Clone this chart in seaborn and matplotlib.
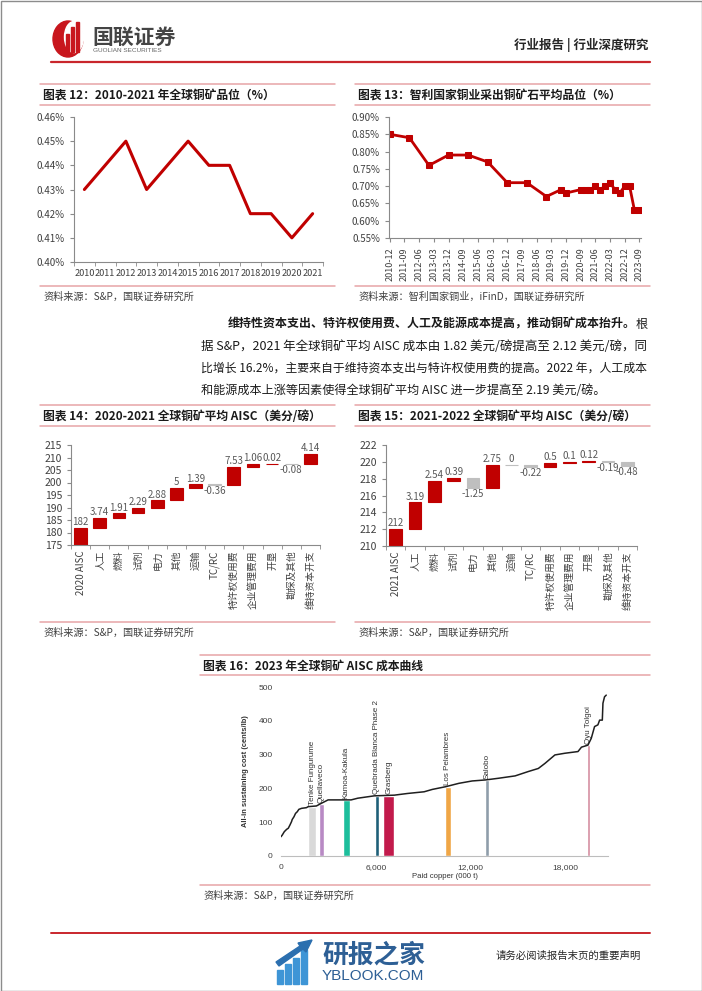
import numpy as np
import pandas as pd
import matplotlib
matplotlib.use("Agg")
import matplotlib.pyplot as plt
from matplotlib.patches import Rectangle, Ellipse, Polygon
import seaborn as sns

sns.set_style("white")
plt.rcParams["font.family"] = ["Noto Sans CJK SC", "DejaVu Sans"]
plt.rcParams["axes.unicode_minus"] = False

W, H = 702, 991
RED = "#C00000"
GREY = "#BFBFBF"
PINK = "#E7A4A7"
TXT = "#404040"

# ---- 图表12 全球铜矿品位
years12 = ["2010", "2011", "2012", "2013", "2014", "2015", "2016", "2017", "2018", "2019", "2020", "2021"]
grade12 = [0.43, 0.44, 0.45, 0.43, 0.44, 0.45, 0.44, 0.44, 0.42, 0.42, 0.41, 0.42]

# ---- 图表13 智利国家铜业品位
dates13 = ["2010-12", "2011-12", "2012-12", "2013-12", "2014-12", "2015-12", "2016-12", "2017-12",
           "2018-12", "2019-09", "2019-12", "2020-09", "2020-12", "2021-03", "2021-06", "2021-09",
           "2021-12", "2022-03", "2022-06", "2022-09", "2022-12", "2023-03", "2023-06", "2023-09"]
grade13 = [0.85, 0.84, 0.76, 0.79, 0.79, 0.77, 0.71, 0.71, 0.67, 0.69, 0.68, 0.69, 0.69, 0.69,
           0.70, 0.69, 0.70, 0.71, 0.69, 0.68, 0.70, 0.70, 0.63, 0.63]
ticks13 = ["2010-12", "2011-09", "2012-06", "2013-03", "2013-12", "2014-09", "2015-06", "2016-03",
           "2016-12", "2017-09", "2018-06", "2019-03", "2019-12", "2020-09", "2021-06", "2022-03",
           "2022-12", "2023-09"]

# ---- 图表14/15 AISC 瀑布
items14 = ["2020 AISC", "人工", "燃料", "试剂", "电力", "其他", "运输", "TC/RC",
           "特许权使用费", "企业管理费用", "开垦", "勘探及其他", "维持资本开支"]
vals14 = [182, 3.74, 1.91, 2.29, 2.88, 5, 1.39, -0.36, 7.53, 1.06, 0.02, -0.08, 4.14]
items15 = ["2021 AISC"] + items14[1:]
vals15 = [212, 3.19, 2.54, 0.39, -1.25, 2.75, 0, -0.22, 0.5, 0.1, 0.12, -0.19, -0.48]

# ---- 图表16 成本曲线
curve_x = [0, 80, 210, 360, 460, 570, 670, 710, 820, 920, 1030, 1130, 1300, 1610, 1720, 2240,
           2560, 2770, 2980, 4440, 4860, 5910, 7170, 8010, 9060, 9580, 10420, 11260, 12100,
           12940, 13770, 14820, 15660, 16290, 16710, 17340, 17970, 18800, 19020, 19430, 19640,
           19850, 20060, 20170, 20340, 20380, 20480, 20590]
curve_y = [57, 62, 72, 79, 82, 92, 102, 108, 116, 126, 131, 138, 141, 143, 146, 148, 156, 161,
           166, 166, 171, 178, 180, 185, 190, 197, 205, 215, 222, 225, 230, 237, 250, 259, 274,
           299, 304, 309, 322, 328, 348, 383, 388, 402, 402, 452, 471, 476]
mines = ["Tenke Fungurume", "Quellaveco", "Kamoa-Kakula", "Quebrada Blanca Phase 2",
         "Grasberg", "Los Pelambres", "Salobo", "Oyu Tolgoi"]
mine_x0 = [1720, 2390, 3920, 5950, 6460, 10380, 12940, 19370]
mine_x1 = [2240, 2700, 4340, 6200, 7170, 10730, 13150, 19560]
mine_cost = [146, 153, 166, 178, 178, 205, 225, 328]
mine_colors = ["#D9D9D9", "#B88AC4", "#1DBE9C", "#1E5F78", "#C21A4B", "#F0A646", "#8F9DAA", "#D48C9F"]

para = [
    "维持性资本支出、特许权使用费、人工及能源成本提高，推动铜矿成本抬升。",
    "据 S&P，2021 年全球铜矿平均 AISC 成本由 1.82 美元/磅提高至 2.12 美元/磅，同",
    "比增长 16.2%，主要来自于维持资本支出与特许权使用费的提高。2022 年，人工成本",
    "和能源成本上涨等因素使得全球铜矿平均 AISC 进一步提高至 2.19 美元/磅。",
]


def box(l, t, r, b):
    return [l / W, 1 - b / H, (r - l) / W, (b - t) / H]


def base_axis(ax):
    for s in ["top", "right"]:
        ax.spines[s].set_visible(False)
    for s in ["left", "bottom"]:
        ax.spines[s].set_color("#8a8a8a")
        ax.spines[s].set_linewidth(0.8)
    ax.tick_params(colors="#8a8a8a", labelcolor=TXT, width=0.8, length=3, labelsize=7)


fig = plt.figure(figsize=(W / 100, H / 100), dpi=100)
bg = fig.add_axes([0, 0, 1, 1])
bg.set_xlim(0, W)
bg.set_ylim(H, 0)
bg.axis("off")

bg.add_patch(Rectangle((0.5, 0.5), W - 1, H - 1, fill=False, edgecolor="#8c8c8c", lw=1))

# header
bg.add_patch(Ellipse((68, 39), 30, 36, color="#C8161D"))
bg.add_patch(Ellipse((74, 37), 19, 31, color="white"))
for bx, bt in zip([66, 71, 76], [34, 27, 22]):
    bg.add_patch(Rectangle((bx, bt), 3, 52 - bt, color="#C8161D"))
bg.text(92, 37, "国联证券", fontsize=15, weight="bold", color="#444444", va="center")
bg.text(93, 51, "GUOLIAN SECURITIES", fontsize=4.6, color="#666666", va="center",
        family=["Liberation Sans"])
bg.text(648, 45, "行业报告 | 行业深度研究", fontsize=9, weight="bold", color="#262626",
        ha="right", va="center")
bg.plot([51, 650], [62, 62], color="#C9262C", lw=1.6)


def section(x0, x1, ytop, ymid, ybot, title, source):
    for yy in (ytop, ymid, ybot):
        bg.plot([x0, x1], [yy, yy], color=PINK, lw=1.1)
    bg.text(x0 + 3, (ytop + ymid) / 2 + 1, title, fontsize=8.5, weight="bold", color="#1a1a1a",
            va="center")
    bg.text(x0 + 3, ybot + 11, source, fontsize=7.3, color=TXT, va="center")


section(40, 335, 84, 105, 286, "图表 12：2010-2021 年全球铜矿品位（%）", "资料来源：S&P，国联证券研究所")
section(355, 650, 84, 105, 286, "图表 13：智利国家铜业采出铜矿石平均品位（%）",
        "资料来源：智利国家铜业，iFinD，国联证券研究所")
section(40, 335, 405, 426, 622, "图表 14：2020-2021 全球铜矿平均 AISC（美分/磅）",
        "资料来源：S&P，国联证券研究所")
section(355, 650, 405, 426, 622, "图表 15：2021-2022 全球铜矿平均 AISC（美分/磅）",
        "资料来源：S&P，国联证券研究所")
section(200, 650, 655, 675, 885, "图表 16：2023 年全球铜矿 AISC 成本曲线", "资料来源：S&P，国联证券研究所")

# paragraph
fig.canvas.draw()
rend = fig.canvas.get_renderer()


def fit(x0, x1, y, s, fs, weight="normal"):
    t = bg.text(x0, y, s, fontsize=fs, weight=weight, color="#1a1a1a", va="center")
    w = t.get_window_extent(renderer=rend).width
    k = min(max((x1 - x0) / w, 0.92), 1.08)
    t.set_fontsize(fs * k)
    return t


fit(228, 636, 324, para[0], 8.7, "bold")
bg.text(648, 324, "根", fontsize=8.7, color="#1a1a1a", ha="right", va="center")
fit(201, 648, 346, para[1], 8.7)
fit(201, 648, 368, para[2], 8.7)
bg.text(201, 390, para[3], fontsize=8.7, color="#1a1a1a", va="center")

# ---- chart 12
ax = fig.add_axes(box(74, 117, 323, 262))
x12 = np.arange(len(years12))
sns.lineplot(x=x12, y=grade12, ax=ax, color=RED, lw=2.2)
base_axis(ax)
ax.set_xlim(-0.5, len(years12) - 0.5)
ax.set_ylim(0.40, 0.46)
ax.set_xticks(x12)
ax.set_xticklabels(years12, fontsize=6.6)
ax.set_xticks(np.arange(-0.5, len(years12), 1), minor=True)
ax.tick_params(axis="x", which="major", length=0, pad=5)
ax.tick_params(axis="x", which="minor", bottom=True, length=3, color="#8a8a8a")
yt = np.round(np.arange(0.40, 0.4601, 0.01), 2)
ax.set_yticks(yt)
ax.set_yticklabels([f"{v:.2f}%" for v in yt])
ax.tick_params(axis="y", left=True)
ax.set_xlabel("")
ax.set_ylabel("")

# ---- chart 13
ax = fig.add_axes(box(389, 117, 641, 238))
m13 = [(int(d[:4]) - 2010) * 12 + int(d[5:]) - 12 for d in dates13]
sns.lineplot(x=m13, y=grade13, ax=ax, color=RED, lw=2, marker="s", markersize=4.5,
             markeredgecolor=RED)
base_axis(ax)
ax.set_xlim(-0.5, 154)
ax.set_ylim(0.55, 0.90)
tpos = [(int(d[:4]) - 2010) * 12 + int(d[5:]) - 12 for d in ticks13]
ax.set_xticks(tpos)
ax.set_xticklabels(ticks13, rotation=90, fontsize=6.5)
ax.tick_params(axis="x", bottom=True)
yt = np.round(np.arange(0.55, 0.901, 0.05), 2)
ax.set_yticks(yt)
ax.set_yticklabels([f"{v:.2f}%" for v in yt])
ax.tick_params(axis="y", left=True)
ax.set_xlabel("")
ax.set_ylabel("")


# ---- waterfalls
def waterfall(ax, items, vals, ylo, yhi, step):
    run = 0.0
    bottoms, heights, colors = [], [], []
    for i, v in enumerate(vals):
        if i == 0:
            bottoms.append(0)
            heights.append(v)
            run = v
        else:
            bottoms.append(min(run, run + v))
            heights.append(abs(v))
            run += v
        colors.append(RED if (i == 0 or v > 0) else GREY)
    xs = np.arange(len(vals))
    ax.bar(xs, heights, bottom=bottoms, width=0.66, color=colors, edgecolor=colors,
           linewidth=0.8, zorder=2)
    for i, v in enumerate(vals):
        if i == 0 or v >= 0:
            ax.annotate(f"{v:g}", (xs[i], bottoms[i] + heights[i]), xytext=(0, 0.5),
                        textcoords="offset points", ha="center", va="bottom", fontsize=7,
                        color="#595959")
        else:
            ax.annotate(f"{v:g}", (xs[i], bottoms[i]), xytext=(0, -0.5),
                        textcoords="offset points", ha="center", va="top", fontsize=7,
                        color="#595959")
    base_axis(ax)
    ax.set_xlim(-0.5, len(vals) - 0.5)
    ax.set_ylim(ylo, yhi)
    ax.set_yticks(np.arange(ylo, yhi + 0.01, step))
    ax.tick_params(axis="y", left=True, labelsize=7.5)
    ax.set_xticks(xs)
    ax.set_xticklabels(items, rotation=90, fontsize=7)
    ax.set_xticks(np.arange(-0.5, len(vals), 1), minor=True)
    ax.tick_params(axis="x", which="major", length=0, pad=4)
    ax.tick_params(axis="x", which="minor", bottom=True, length=3, color="#8a8a8a")


ax = fig.add_axes(box(71, 445, 320, 545))
waterfall(ax, items14, vals14, 175, 215, 5)
ax = fig.add_axes(box(386, 445, 637, 546))
waterfall(ax, items15, vals15, 210, 222, 2)

# ---- chart 16
ax = fig.add_axes(box(281, 687, 608, 856))
for name, x0, x1, c, col in zip(mines, mine_x0, mine_x1, mine_cost, mine_colors):
    ax.bar(x0, c, width=x1 - x0, align="edge", color=col, zorder=1)
    ax.text((x0 + x1) / 2, c + 4, name, rotation=90, ha="center", va="bottom", fontsize=5.8,
            color="#333333", family=["Liberation Sans"])
sns.lineplot(x=curve_x, y=curve_y, ax=ax, color="#1f1f1f", lw=1.1, zorder=3)
for s in ["top", "right", "left"]:
    ax.spines[s].set_visible(False)
ax.spines["bottom"].set_color("#BDBDBD")
ax.spines["bottom"].set_linewidth(0.8)
ax.set_xlim(0, 20700)
ax.set_ylim(0, 500)
ax.set_xticks([0, 6000, 12000, 18000])
ax.set_xticklabels(["0", "6,000", "12,000", "18,000"])
ax.set_yticks(np.arange(0, 501, 100))
ax.tick_params(length=0, labelsize=6, labelcolor="#404040", pad=6,
               labelfontfamily="Liberation Sans")
ax.set_xlabel("Paid copper (000 t)", fontsize=5.6, color="#333333", labelpad=1,
              family=["Liberation Sans"])
ax.set_ylabel("All-in sustaining cost (cents/lb)", fontsize=5.4, color="#333333",
              labelpad=7, weight="bold", family=["Liberation Sans"])

# footer
bg.plot([51, 650], [933, 933], color="#C9262C", lw=1.4)
for bx, bh in zip([277, 285, 293, 301], [14, 20, 26, 34]):
    bg.add_patch(Rectangle((bx, 984 - bh), 6, bh, color="#3E95D6"))
bg.add_patch(Polygon([[276, 962], [300, 946], [298, 943], [312, 940], [306, 952], [303, 949],
                      [279, 966]], closed=True, color="#2B6FAF"))
bg.text(322, 955, "研报之家", fontsize=18.5, weight="bold", color="#2D5F95", va="center")
bg.text(322, 976, "YBLOOK.COM", fontsize=11, color="#2D5F95", va="center",
        family=["Liberation Sans"])
bg.text(641, 956, "请务必阅读报告末页的重要声明", fontsize=7.5, color="#262626", ha="right",
        va="center")

fig.savefig("out.png", dpi=100)
